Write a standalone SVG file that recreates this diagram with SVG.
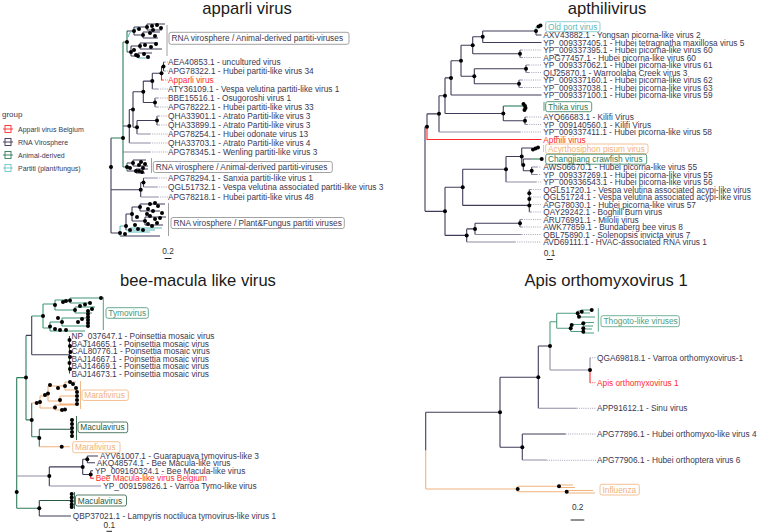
<svg xmlns="http://www.w3.org/2000/svg" width="757" height="532" viewBox="0 0 757 532">
<defs>
<style>
.ti{font-family:"Liberation Sans",Arial,Helvetica,sans-serif;font-size:16.6px;fill:#1a1a1a;text-anchor:middle}
.l{font-family:"Liberation Sans",Arial,Helvetica,sans-serif;font-size:8.3px;fill:#3b3852}
.lg{font-family:"Liberation Sans",Arial,Helvetica,sans-serif;font-size:7px;fill:#3b3852}
.sc{font-family:"Liberation Sans",Arial,Helvetica,sans-serif;font-size:8.3px;fill:#333;text-anchor:middle}
.red{fill:#ff2b2b}
.e{fill:none;stroke:#403c5a;stroke-width:1.1}
.e2{fill:none;stroke:#8e8ba3;stroke-width:1.1}
.dt{fill:none;stroke:#8e8ba3;stroke-width:0.8;stroke-dasharray:1 1.2}
.er{fill:none;stroke:#ff2b2b;stroke-width:1.1}
.dr{fill:none;stroke:#ff2b2b;stroke-width:0.8;stroke-dasharray:1 1.2}
.eg{fill:none;stroke:#2f7d5b;stroke-width:1.1}
.eg2{fill:none;stroke:#3f9676;stroke-width:1.1}
.et{fill:none;stroke:#5fb9bd;stroke-width:1.1}
.eo{fill:none;stroke:#f2b27c;stroke-width:1.1}
.em{fill:none;stroke:#2a5a43;stroke-width:1.1}
.bar{fill:none;stroke:#888;stroke-width:0.8}
.bx{fill:#fff;stroke-width:0.8}
.sb{fill:none;stroke:#222;stroke-width:1}
</style>
<circle id="d" r="2" fill="#000"/>
</defs>
<rect width="757" height="532" fill="#fff"/>

<!-- ================= APPARLI ================= -->
<g id="apparli">
<text class="ti" x="247" y="14">apparli virus</text>
<g id="apparli-connectors">
<path class="e" d="M111,138V233 M123,126H129.3 M129.3,109.5V143 M129.3,109.5H133 M133,91.8V127.25 M133,91.8H143.3 M143.3,81.1V102.5 M143.3,81.1H152.3 M152.3,73.25V89 M152.3,73.25H161.5 M161.5,66.5V73.25 M161.5,66.5H163.5 M163.5,62V71 M143.3,102.5H155 M155,98V107 M133,127.25H137 M137,120.5V134 M137,120.5H157 M157,116V125 M111,189.75H140.7 M140.7,182.5V197 M140.7,182.5H143.5 M143.5,178V187"/>
<path class="e2" d="M129.3,143H150 M123,152H150 M152.3,89H158 M163.5,62H165 M163.5,71H165 M155,98H158 M155,107H158 M157,116H159 M157,125H159 M137,134H150 M143.5,178H157 M143.5,187H157 M140.7,197H158"/>
<path class="er" d="M161.5,73.25V80H163"/>
<path class="eg" d="M111,138H123 M123,42V167 M123,42H127 M123,167H127 M127,31V52 M127,163V171"/>
<path class="e" d="M127,31H134 M134,27V35 M134,27H147 M134,35H143 M147,24V30 M147,24H165 M147,30H162 M143,32V38 M143,32H160 M143,38H158 M127,52H131 M131,46V56 M131,46H140 M140,43V49 M140,43H158 M140,49H162 M131,56H138 M138,53V58 M138,53H152"/>
<path class="et" d="M138,58H150 M128,37C129,31 133,29 140,28"/>
<path class="e" d="M127,163H133 M133,160V166 M133,160H146 M133,166H148 M127,171H136 M136,169V173 M136,169H148 M136,173H145"/>
<path class="e" d="M111,233H120 M120,236H160 M126,214V230 M126,214H132 M132,207V221 M132,207H140 M140,204V211 M140,204H165 M140,211H160 M132,221H145 M145,217V225 M145,217H166 M145,225H163"/>
<path class="et" d="M120,226V236 M120,226H126 M126,230H155 M128,232H150 M130,228H162"/>
<path class="dt" d="M165,62H168 M165,71H168 M158,89H168 M158,98H168 M158,107H168 M159,116H168 M159,125H168 M150,134H168 M150,143H168 M150,152H168 M157,178H168 M157,187H168 M158,197H168"/>
<path class="dr" d="M163,80H168"/>
</g>
<g id="apparli-dots">
<use href="#d" x="111" y="167"/><use href="#d" x="123" y="138"/><use href="#d" x="129.3" y="126"/><use href="#d" x="133" y="109.5"/><use href="#d" x="143.3" y="91.8"/><use href="#d" x="152.3" y="81.1"/><use href="#d" x="161.5" y="73.25"/><use href="#d" x="163.5" y="66.5"/><use href="#d" x="155" y="102.5"/><use href="#d" x="137" y="127.25"/><use href="#d" x="157" y="120.5"/><use href="#d" x="140.7" y="189.75"/><use href="#d" x="143.5" y="182.5"/>
<use href="#d" x="127" y="42"/><use href="#d" x="134" y="31"/><use href="#d" x="147" y="27"/><use href="#d" x="143" y="35"/><use href="#d" x="131" y="52"/><use href="#d" x="140" y="46"/><use href="#d" x="138" y="56"/><use href="#d" x="152" y="26"/><use href="#d" x="157" y="25"/><use href="#d" x="161" y="28"/><use href="#d" x="150" y="33"/><use href="#d" x="155" y="36"/><use href="#d" x="145" y="45"/><use href="#d" x="151" y="47"/><use href="#d" x="156" y="44"/><use href="#d" x="134" y="50"/><use href="#d" x="136" y="55"/><use href="#d" x="144" y="54"/><use href="#d" x="148" y="57"/><use href="#d" x="139" y="29"/><use href="#d" x="153" y="30"/>
<use href="#d" x="127" y="167"/><use href="#d" x="133" y="163"/><use href="#d" x="136" y="171"/><use href="#d" x="130" y="168"/><use href="#d" x="139" y="165"/><use href="#d" x="141" y="162"/><use href="#d" x="143" y="168"/><use href="#d" x="145" y="164"/><use href="#d" x="139" y="171"/><use href="#d" x="142" y="172"/>
<use href="#d" x="120" y="233"/><use href="#d" x="126" y="226"/><use href="#d" x="132" y="214"/><use href="#d" x="140" y="207"/><use href="#d" x="145" y="221"/><use href="#d" x="150" y="204"/><use href="#d" x="155" y="203"/><use href="#d" x="158" y="206"/><use href="#d" x="148" y="209"/><use href="#d" x="153" y="211"/><use href="#d" x="150" y="216"/><use href="#d" x="155" y="219"/><use href="#d" x="160" y="218"/><use href="#d" x="148" y="224"/><use href="#d" x="152" y="226"/><use href="#d" x="157" y="223"/><use href="#d" x="135" y="225"/><use href="#d" x="138" y="229"/><use href="#d" x="130" y="230"/><use href="#d" x="125" y="234"/><use href="#d" x="143" y="230"/><use href="#d" x="162" y="213"/><use href="#d" x="137" y="217"/><use href="#d" x="147" y="214"/>
</g>
<g id="ap-box1"><path class="bar" d="M167,25V56"/><rect class="bx" x="169" y="32.3" width="180" height="12" rx="2" stroke="#8a8a8a"/><text class="l" x="171.5" y="41.3">RNA virosphere / Animal-derived partiti-viruses</text></g>
<g id="ap-box2"><path class="bar" d="M151.5,158V173"/><rect class="bx" x="153.3" y="161.5" width="179" height="11" rx="2" stroke="#8a8a8a"/><text class="l" x="155.8" y="170">RNA virosphere / Animal-derived partiti-viruses</text></g>
<g id="ap-box3"><path class="bar" d="M168.5,203V236"/><rect class="bx" x="171" y="217.5" width="173.3" height="11" rx="2" stroke="#8a8a8a"/><text class="l" x="173.5" y="226">RNA virosphere / Plant&amp;Fungus partiti viruses</text></g>
<g id="ap-l1"><text class="l" x="168" y="65">AEA40853.1 - uncultured virus</text></g>
<g id="ap-l2"><text class="l" x="168" y="74">APG78322.1 - Hubei partiti-like virus 34</text></g>
<g id="ap-l3"><text class="l red" x="168" y="83">Apparli virus</text></g>
<g id="ap-l4"><text class="l" x="168" y="92">ATY36109.1 - Vespa velutina partiti-like virus 1</text></g>
<g id="ap-l5"><text class="l" x="168" y="101">BBE15516.1 - Osugoroshi virus 1</text></g>
<g id="ap-l6"><text class="l" x="168" y="110">APG78222.1 - Hubei partiti-like virus 33</text></g>
<g id="ap-l7"><text class="l" x="168" y="119">QHA33901.1 - Atrato Partiti-like virus 3</text></g>
<g id="ap-l8"><text class="l" x="168" y="128">QHA33899.1 - Atrato Partiti-like virus 3</text></g>
<g id="ap-l9"><text class="l" x="168" y="137">APG78254.1 - Hubei odonate virus 13</text></g>
<g id="ap-l10"><text class="l" x="168" y="146">QHA33703.1 - Atrato Partiti-like virus 4</text></g>
<g id="ap-l11"><text class="l" x="168" y="155">APG78345.1 - Wenling partiti-like virus 3</text></g>
<g id="ap-l12"><text class="l" x="168" y="181">APG78294.1 - Sanxia partiti-like virus 1</text></g>
<g id="ap-l13"><text class="l" x="168" y="190">QGL51732.1 - Vespa velutina associated partiti-like virus 3</text></g>
<g id="ap-l14"><text class="l" x="168" y="200">APG78218.1 - Hubei partiti-like virus 48</text></g>
<g id="ap-scale"><text class="sc" x="168" y="254">0.2</text><path class="sb" d="M164.5,258.5H171.5"/></g>
</g>

<!-- legend -->
<g id="legend">
<text class="lg" x="2" y="117" style="font-size:8px">group</text>
<g id="leg-1"><rect x="5" y="125.5" width="6" height="7" fill="none" stroke="#ff2b2b" stroke-width="0.9"/><path d="M3,129H13" stroke="#ff2b2b" stroke-width="0.9"/><text class="lg" x="18" y="131.5">Apparli virus Belgium</text></g>
<g id="leg-2"><rect x="5" y="138.5" width="6" height="7" fill="none" stroke="#3a3050" stroke-width="0.9"/><path d="M3,142H13" stroke="#3a3050" stroke-width="0.9"/><text class="lg" x="18" y="144.5">RNA Virosphere</text></g>
<g id="leg-3"><rect x="5" y="151.5" width="6" height="7" fill="none" stroke="#2f7d5b" stroke-width="0.9"/><path d="M3,155H13" stroke="#2f7d5b" stroke-width="0.9"/><text class="lg" x="18" y="157.5">Animal-derived</text></g>
<g id="leg-4"><rect x="5" y="164.5" width="6" height="7" fill="none" stroke="#6ec3c9" stroke-width="0.9"/><path d="M3,168H13" stroke="#6ec3c9" stroke-width="0.9"/><text class="lg" x="18" y="170.5">Partiti (plant/fungus)</text></g>
</g>

<!-- ================= APTHILI ================= -->
<g id="apthili">
<text class="ti" x="607" y="14">apthilivirus</text>
<g id="apthili-connectors">
<path class="e" d="M425,126.7V211.35 M425,126.7H427 M427,113.85V126.7 M427,113.85H439 M439,95.7V132 M439,95.7H445 M445,77.9V113.5 M445,77.9H451 M451,60.75V95 M451,60.75H461 M461,45.25V76.25 M461,45.25H472.7 M472.7,36.75V53.75 M472.7,36.75H482.7 M482.7,31V42.5 M482.7,31H536 M536,31V35 M472.7,53.75H520 M520,50V57.5 M461,76.25H474.3 M474.3,68.75V83.75 M474.3,68.75H526 M526,65V72.5 M474.3,83.75H519 M519,80V87.5 M445,113.5H503.3 M503.3,106V120.75 M503.3,120.75H525 M525,117V124.5"/>
<path class="e" d="M482.7,42.5H541.5 M451,95H541.5 M536,35H541.5"/>
<path class="e2" d="M520,50H522 M520,57.5H522 M526,65H529 M526,72.5H529 M519,80H522 M519,87.5H522 M525,117H527 M525,124.5H527 M439,132H520"/>
<path class="et" d="M536,27V31 M536,27H540"/>
<path class="eg" d="M503.3,106H523"/>
<path class="er" d="M427,126.7V139.5H541.5"/>
<path class="e" d="M425,211.35H445 M445,187.3V235.4 M445,187.3H462.7 M462.7,169.25V205.4 M462.7,169.25H506 M506,156.5V182 M506,156.5H521.7 M521.7,148V164.9 M521.7,148H532 M521.7,164.9H523.3 M523.3,159V170.75 M523.3,159H531.7 M523.3,170.75H531.7 M531.7,167V174.5 M462.7,205.4H529.3 M529.3,189.5V212 M445,235.4H466.7 M466.7,228.9V242 M466.7,228.9H475 M475,223.25V234.5 M475,223.25H520 M520,219.5V227"/>
<path class="e2" d="M531.7,167H537 M531.7,174.5H537 M506,182H536 M529.3,189.5H531 M529.3,197H531 M529.3,204.5H531 M529.3,212H531 M520,219.5H522 M520,227H522 M475,234.5H521.7 M466.7,242H515"/>
<path class="eg" d="M531.7,159H541.7"/>
<path class="dt" d="M522,50H541.5 M522,57.5H541.5 M529,65H541.5 M529,72.5H541.5 M522,80H541.5 M522,87.5H541.5 M527,117H541.5 M527,124.5H541.5 M520,132H541.5 M537,167H541.5 M537,174.5H541.5 M536,182H541.5 M531,189.5H541.5 M531,197H541.5 M531,204.5H541.5 M531,212H541.5 M522,219.5H541.5 M522,227H541.5 M521.7,234.5H541.5 M515,242H541.5"/>
</g>
<g id="apthili-dots">
<use href="#d" x="536" y="31"/><use href="#d" x="538.5" y="26.5"/><use href="#d" x="540.5" y="25.5"/><use href="#d" x="482.7" y="36.75"/><use href="#d" x="472.7" y="45.25"/><use href="#d" x="520" y="53.75"/><use href="#d" x="461" y="60.75"/><use href="#d" x="526" y="68.75"/><use href="#d" x="474.3" y="76.25"/><use href="#d" x="519" y="83.75"/><use href="#d" x="451" y="77.9"/><use href="#d" x="445" y="95.7"/><use href="#d" x="503.3" y="113.5"/><use href="#d" x="525" y="120.75"/><use href="#d" x="439" y="113.85"/><use href="#d" x="427" y="126.7"/>
<use href="#d" x="523.5" y="104"/><use href="#d" x="525" y="106"/><use href="#d" x="525.5" y="108"/><use href="#d" x="524.5" y="110"/>
<use href="#d" x="521.7" y="156.5"/><use href="#d" x="523.3" y="164.9"/><use href="#d" x="531.7" y="170.75"/><use href="#d" x="506" y="169.25"/><use href="#d" x="462.7" y="187.3"/><use href="#d" x="529.3" y="193.25"/><use href="#d" x="529.3" y="198.9"/><use href="#d" x="529.3" y="205.4"/><use href="#d" x="445" y="211.35"/><use href="#d" x="520" y="223.25"/><use href="#d" x="475" y="228.9"/><use href="#d" x="466.7" y="235.4"/>
<use href="#d" x="533" y="149.5"/><use href="#d" x="535.5" y="148.5"/><use href="#d" x="538" y="147.5"/><use href="#d" x="541.7" y="159"/>
</g>
<g id="at-oldport"><rect class="bx" x="545.7" y="21.7" width="54.3" height="10" rx="2" stroke="#6ec3c9"/><text class="l" x="548" y="29.7" fill="#5fb9bd" style="fill:#5fb9bd">Old port virus</text></g>
<g id="at-thika"><path d="M544,102V111" stroke="#2f7d5b" stroke-width="0.8"/><rect class="bx" x="545.7" y="101.7" width="46" height="10" rx="2" stroke="#2f7d5b"/><text class="l" x="548" y="109.7" style="fill:#2f7d5b">Thika virus</text></g>
<g id="at-acyrtho"><path d="M543.5,145V152" stroke="#f2b27c" stroke-width="0.8"/><rect class="bx" x="545.7" y="144" width="102.3" height="9.5" rx="2" stroke="#f2b27c"/><text class="l" x="548" y="151.7" style="fill:#f2b27c">Acyrthosiphon pisum virus</text></g>
<g id="at-changjiang"><rect class="bx" x="545.7" y="154.2" width="101" height="10" rx="2" stroke="#2f7d5b"/><text class="l" x="548" y="162.2" style="fill:#2f7d5b">Changjiang crawfish virus</text></g>
<g id="at-l1"><text class="l" x="543.3" y="38">AXV43882.1 - Yongsan picorna-like virus 2</text></g>
<g id="at-l2"><text class="l" x="543.3" y="45.5">YP_009337405.1 - Hubei tetragnatha maxillosa virus 5</text></g>
<g id="at-l3"><text class="l" x="543.3" y="53">YP_009337395.1 - Hubei picorna-like virus 60</text></g>
<g id="at-l4"><text class="l" x="543.3" y="60.5">APG77457.1 - Hubei picorna-like virus 60</text></g>
<g id="at-l5"><text class="l" x="543.3" y="68">YP_009337062.1 - Hubei picorna-like virus 61</text></g>
<g id="at-l6"><text class="l" x="543.3" y="75.5">QIJ25870.1 - Warroolaba Creek virus 3</text></g>
<g id="at-l7"><text class="l" x="543.3" y="83">YP_009337160.1 - Hubei picorna-like virus 62</text></g>
<g id="at-l8"><text class="l" x="543.3" y="90.5">YP_009337038.1 - Hubei picorna-like virus 63</text></g>
<g id="at-l9"><text class="l" x="543.3" y="98">YP_009337100.1 - Hubei picorna-like virus 59</text></g>
<g id="at-l10"><text class="l" x="543.3" y="120">AYQ66683.1 - Kilifi Virus</text></g>
<g id="at-l11"><text class="l" x="543.3" y="127.5">YP_009140560.1 - Kilifi Virus</text></g>
<g id="at-l12"><text class="l" x="543.3" y="135">YP_009337411.1 - Hubei picorna-like virus 58</text></g>
<g id="at-l13"><text class="l red" x="543.3" y="142.5">Apthili virus</text></g>
<g id="at-l14"><text class="l" x="543.3" y="170">AWS06670.1 - Hubei picorna-like virus 55</text></g>
<g id="at-l15"><text class="l" x="543.3" y="177.5">YP_009337269.1 - Hubei picorna-like virus 55</text></g>
<g id="at-l16"><text class="l" x="543.3" y="185">YP_009336543.1 - Hubei picorna-like virus 56</text></g>
<g id="at-l17"><text class="l" x="543.3" y="192.5">QGL51720.1 - Vespa velutina associated acypi-like virus</text></g>
<g id="at-l18"><text class="l" x="543.3" y="200">QGL51724.1 - Vespa velutina associated acypi-like virus</text></g>
<g id="at-l19"><text class="l" x="543.3" y="207.5">APG78030.1 - Hubei picorna-like virus 57</text></g>
<g id="at-l20"><text class="l" x="543.3" y="215">QAY29242.1 - Boghill Burn virus</text></g>
<g id="at-l21"><text class="l" x="543.3" y="222.5">ARU76991.1 - Milolii virus</text></g>
<g id="at-l22"><text class="l" x="543.3" y="230">AWK77859.1 - Bundaberg bee virus 8</text></g>
<g id="at-l23"><text class="l" x="543.3" y="237.5">QBL75890.1 - Solenopsis invicta virus 7</text></g>
<g id="at-l24"><text class="l" x="543.3" y="245">AVD69111.1 - HVAC-associated RNA virus 1</text></g>
<g id="at-scale"><text class="sc" x="549.5" y="255.5">0.1</text><path class="sb" d="M546.7,259.5H552.7"/></g>
</g>

<!-- ================= BEE-MACULA ================= -->
<g id="bee">
<text class="ti" x="198" y="286">bee-macula like virus</text>
<g id="bee-connectors">
<path class="eg" d="M16.7,377.6V508.3 M16.7,377.6H26 M26,335.4V419.9 M26,419.9H31.7 M31.7,403V436.7 M31.7,436.7H39.3 M39.3,429.3V446.7 M16.7,508.3H39.3 M16.7,492H18.3"/>
<path class="e" d="M26,335.4H31.7 M31.7,316V354.75 M31.7,354.75H69.5 M69.5,336V373.5 M49.3,466.9V486 M49.3,466.9H82.7 M82.7,459.3V474.5 M82.7,459.3H87.3 M87.3,456V462.7 M87.3,456H98 M87.3,462.7H95 M82.7,474.5H90.7 M90.7,470.7V474.5 M90.7,470.7H93 M39.3,500.5V516 M39.3,516H71"/>
<path class="e2" d="M16.7,476H49.3 M49.3,486H101"/>
<path class="er" d="M90.7,474.5V478.3H94"/>
<path class="eg2" d="M31.7,316H43 M43,304V328 M43,304H55 M55,300V310 M55,300H70 M70,298V303 M70,298H101 M70,303H90 M55,310H75 M75,307V313 M75,307H95 M75,313H92 M43,328H50 M50,322V331 M50,331H85 M50,322H62 M62,318V326 M62,318H90 M62,326H88"/>
<path class="eo" d="M31.7,403H36.7 M36.7,403H40 M40,396V408 M40,396H48 M48,386V401 M48,386H65 M65,382V390 M65,382H76 M65,390H78 M48,401H60 M60,396V404 M60,396H78 M60,404H79 M40,408H55 M55,405V410 M55,405H78 M55,410H64 M39.3,446.7H70"/>
<path class="em" d="M39.3,429.3H72 M72,418V438 M39.3,500.5H71.7 M71.7,493V508"/>
</g>
<g id="bee-dots">
<use href="#d" x="26" y="377.6"/><use href="#d" x="31.7" y="419.9"/><use href="#d" x="39.3" y="438"/><use href="#d" x="16.7" y="492"/><use href="#d" x="49.3" y="476"/><use href="#d" x="82.7" y="466.9"/><use href="#d" x="87.3" y="459.3"/><use href="#d" x="90.7" y="474.5"/><use href="#d" x="39.3" y="508.3"/><use href="#d" x="61.7" y="446.7"/>
<use href="#d" x="43" y="316"/><use href="#d" x="55" y="305"/><use href="#d" x="70" y="300.5"/><use href="#d" x="75" y="310"/><use href="#d" x="50" y="326.5"/><use href="#d" x="62" y="322"/><use href="#d" x="63" y="302"/><use href="#d" x="66" y="301"/><use href="#d" x="80" y="306"/><use href="#d" x="85" y="304.5"/><use href="#d" x="90" y="303"/><use href="#d" x="101" y="298"/><use href="#d" x="55" y="329"/><use href="#d" x="60" y="330"/><use href="#d" x="66" y="330"/><use href="#d" x="88" y="311"/><use href="#d" x="88" y="314"/><use href="#d" x="88" y="317"/><use href="#d" x="88" y="320"/><use href="#d" x="88" y="323"/><use href="#d" x="88" y="326"/><use href="#d" x="82" y="319"/><use href="#d" x="92" y="309"/><use href="#d" x="58" y="318"/><use href="#d" x="78" y="322"/>
<use href="#d" x="69.5" y="340"/><use href="#d" x="70" y="346"/><use href="#d" x="70.5" y="352"/><use href="#d" x="70" y="357"/><use href="#d" x="69.5" y="363"/><use href="#d" x="70" y="369"/>
<use href="#d" x="36.7" y="403"/><use href="#d" x="40" y="402"/><use href="#d" x="48" y="393.5"/><use href="#d" x="65" y="386"/><use href="#d" x="60" y="400"/><use href="#d" x="55" y="407.5"/><use href="#d" x="70" y="382"/><use href="#d" x="73" y="384"/><use href="#d" x="76" y="388"/><use href="#d" x="77" y="392"/><use href="#d" x="77" y="396"/><use href="#d" x="77" y="400"/><use href="#d" x="77" y="404"/><use href="#d" x="62" y="410"/><use href="#d" x="65" y="409.5"/><use href="#d" x="50" y="385"/><use href="#d" x="45" y="395"/><use href="#d" x="58" y="388"/>
<use href="#d" x="72" y="420"/><use href="#d" x="72" y="424"/><use href="#d" x="72" y="428"/><use href="#d" x="72" y="432"/><use href="#d" x="72" y="436"/>
<use href="#d" x="71.7" y="494"/><use href="#d" x="71.7" y="497.5"/><use href="#d" x="71.7" y="501"/><use href="#d" x="71.7" y="504.5"/><use href="#d" x="71.7" y="507"/>
</g>
<g id="bm-tymo"><path d="M103.3,297V330" stroke="#3f9676" stroke-width="0.9"/><rect class="bx" x="106" y="307.7" width="42.3" height="10.6" rx="2" stroke="#3f9676"/><text class="l" x="108.3" y="315.9" style="fill:#3f9676">Tymovirus</text></g>
<g id="bm-marafi1"><path d="M80.5,381V409" stroke="#f2b27c" stroke-width="0.9"/><rect class="bx" x="82" y="390" width="46.3" height="10.5" rx="2" stroke="#f2b27c"/><text class="l" x="84.3" y="398.2" style="fill:#f2b27c">Marafivirus</text></g>
<g id="bm-macula1"><path d="M76.5,416V440" stroke="#2a5a43" stroke-width="0.9"/><rect class="bx" x="78" y="422" width="49.7" height="10.7" rx="2" stroke="#2a5a43"/><text class="l" x="80.3" y="430.3" style="fill:#2a5a43">Maculavirus</text></g>
<g id="bm-marafi2"><rect class="bx" x="72.7" y="441.7" width="47.3" height="11" rx="2" stroke="#f2b27c"/><text class="l" x="75" y="450.2" style="fill:#f2b27c">Marafivirus</text></g>
<g id="bm-macula2"><path d="M74.5,492V509" stroke="#2a5a43" stroke-width="0.9"/><rect class="bx" x="75.5" y="495" width="51" height="11" rx="2" stroke="#2a5a43"/><text class="l" x="77.8" y="503.5" style="fill:#2a5a43">Maculavirus</text></g>
<g id="bm-l1"><text class="l" x="71.5" y="339">NP_037647.1 - Poinsettia mosaic virus</text></g>
<g id="bm-l2"><text class="l" x="71.5" y="346.5">BAJ14665.1 - Poinsettia mosaic virus</text></g>
<g id="bm-l3"><text class="l" x="71.5" y="354">CAL80776.1 - Poinsettia mosaic virus</text></g>
<g id="bm-l4"><text class="l" x="71.5" y="361.5">BAJ14667.1 - Poinsettia mosaic virus</text></g>
<g id="bm-l5"><text class="l" x="71.5" y="369">BAJ14669.1 - Poinsettia mosaic virus</text></g>
<g id="bm-l6"><text class="l" x="71.5" y="376.5">BAJ14673.1 - Poinsettia mosaic virus</text></g>
<g id="bm-l7"><text class="l" x="100" y="459">AYV61007.1 - Guarapuava tymovirus-like 3</text></g>
<g id="bm-l8"><text class="l" x="96.7" y="465.7">AKQ48574.1 - Bee Macula-like virus</text></g>
<g id="bm-l9"><text class="l" x="95" y="473.7">YP_009160324.1 - Bee Macula-like virus</text></g>
<g id="bm-l10"><text class="l red" x="95.7" y="481.3">Bee Macula-like virus Belgium</text></g>
<g id="bm-l11"><text class="l" x="103.3" y="489">YP_009159826.1 - Varroa Tymo-like virus</text></g>
<g id="bm-l12"><text class="l" x="72.7" y="519">QBP37021.1 - Lampyris noctiluca tymovirus-like virus 1</text></g>
<g id="bm-scale"><text class="sc" x="109.3" y="527.5">0.1</text><path class="sb" d="M106.5,531.3H112"/></g>
</g>

<!-- ================= APIS ================= -->
<g id="apis">
<text class="ti" x="606" y="286">Apis orthomyxovirus 1</text>
<g id="apis-connectors">
<path class="e" d="M425.7,412.3V450.6 M425.7,412.3H500 M500,377.3V447.3 M500,377.3H538.3 M538.3,346V408.3 M538.3,346H550 M500,447.3H522.3 M522.3,434V460 M522.3,434H565.7"/>
<path class="e2" d="M550,346V370 M550,370H590 M590,357.7V370 M538.3,408.3H576.7 M522.3,460H546.7"/>
<path class="er" d="M590,370V382.7"/>
<path class="eo" d="M425.7,450.6V489 M425.7,489H517.7 M517.7,486.3V491.7 M517.7,486.3H559 M559,485V487.5 M559,485H573 M559,487.5H575 M517.7,491.7H566.7 M566.7,490.5V493 M566.7,490.5H593 M566.7,493H595"/>
<path fill="none" stroke="#4f9e80" stroke-width="1.1" d="M550,321.7V346 M550,321.7H556.7 M556.7,313.3V328.3 M556.7,313.3H577.7 M577.7,311V317 M577.7,311H581.7 M581.7,310V313 M581.7,310H591.7 M581.7,313H590 M577.7,317H595 M556.7,328.3H570.7 M570.7,324.5V331.5 M570.7,324.5H583.3 M583.3,322.5V326 M583.3,322.5H594 M583.3,326H593 M570.7,331.5H583.3 M583.3,329V333 M583.3,329H592 M583.3,333H594"/>
<path class="dt" d="M590,357.7H596 M576.7,408.3H596 M565.7,434H596 M546.7,460.3H596"/>
<path class="dr" d="M590,382.7H596"/>
</g>
<g id="apis-dots">
<use href="#d" x="500" y="412.3"/><use href="#d" x="538.3" y="377.3"/><use href="#d" x="550" y="346"/><use href="#d" x="590" y="370"/><use href="#d" x="522.3" y="447.3"/><use href="#d" x="517.7" y="489"/><use href="#d" x="559" y="486.3"/><use href="#d" x="566.7" y="491.7"/>
<use href="#d" x="577.7" y="313.3"/><use href="#d" x="581.7" y="311.7"/><use href="#d" x="591.7" y="310"/><use href="#d" x="579" y="316.7"/><use href="#d" x="583.3" y="323.3"/><use href="#d" x="571.7" y="325"/><use href="#d" x="570.7" y="328.3"/><use href="#d" x="583.3" y="328.3"/><use href="#d" x="583.3" y="331.7"/>
</g>
<g id="apis-thogoto"><path d="M598.3,308.3V331.7" stroke="#4f9e80" stroke-width="0.9"/><rect class="bx" x="601" y="315.7" width="78.3" height="11" rx="2" stroke="#4f9e80"/><text class="l" x="603.5" y="324.2" style="fill:#4f9e80">Thogoto-like viruses</text></g>
<g id="apis-influenza"><rect class="bx" x="600" y="484.3" width="39.3" height="10.7" rx="2" stroke="#f2b27c"/><text class="l" x="602.5" y="492.6" style="fill:#f2b27c">Influenza</text></g>
<g id="apis-l1"><text class="l" x="597" y="360.7">QGA69818.1 - Varroa orthomyxovirus-1</text></g>
<g id="apis-l2"><text class="l red" x="597" y="385.7">Apis orthomyxovirus 1</text></g>
<g id="apis-l3"><text class="l" x="597" y="411.3">APP91612.1 - Sinu virus</text></g>
<g id="apis-l4"><text class="l" x="597" y="437">APG77896.1 - Hubei orthomyxo-like virus 4</text></g>
<g id="apis-l5"><text class="l" x="597" y="463.3">APG77906.1 - Hubei orthoptera virus 6</text></g>
<g id="apis-scale"><text class="sc" x="577.7" y="510.3">0.2</text><path class="sb" d="M570.7,520H584.3"/></g>
</g>
</svg>
